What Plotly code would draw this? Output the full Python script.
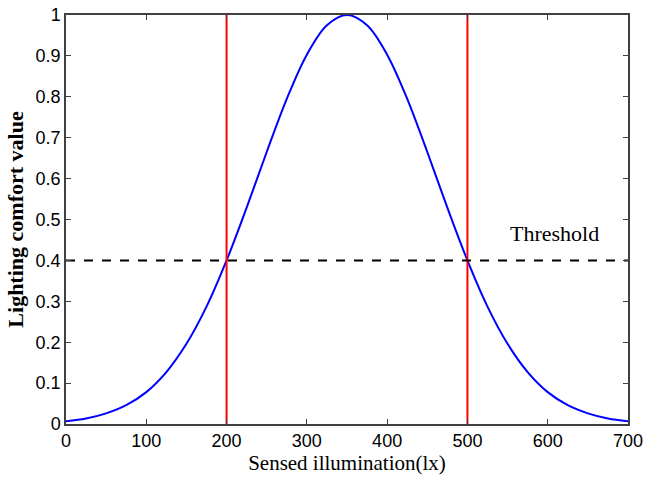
import plotly.graph_objects as go

# Data
illum = [0, 25, 50, 75, 100, 125, 150, 175, 200, 225, 250, 275, 300, 325, 350,
         375, 400, 425, 450, 475, 500, 525, 550, 575, 600, 625, 650, 675, 700]
comfort = [0.007, 0.0135, 0.026, 0.046, 0.078, 0.127, 0.196, 0.287, 0.400, 0.529,
           0.665, 0.795, 0.903, 0.975, 1.000,
           0.975, 0.903, 0.795, 0.665, 0.529, 0.400, 0.287, 0.196, 0.127, 0.078,
           0.046, 0.026, 0.0135, 0.007]
bounds_x = [200, 500]
threshold = 0.4
threshold_label = "Threshold"
label_pos = (608, 0.466)
x_ticks = [0, 100, 200, 300, 400, 500, 600, 700]
y_ticks = [0, 0.1, 0.2, 0.3, 0.4, 0.5, 0.6, 0.7, 0.8, 0.9, 1]

fig = go.Figure()
fig.add_trace(go.Scatter(x=illum, y=comfort, mode="lines",
                         line=dict(color="#0000ff", width=2, shape="spline"),
                         showlegend=False, cliponaxis=False))
for bx in bounds_x:
    fig.add_trace(go.Scatter(x=[bx, bx], y=[0, 1], mode="lines",
                             line=dict(color="#ff0000", width=2),
                             showlegend=False))
fig.add_trace(go.Scatter(x=[x_ticks[0], x_ticks[-1]], y=[threshold, threshold],
                         mode="lines",
                         line=dict(color="black", width=2, dash="dash"),
                         showlegend=False))
fig.add_annotation(x=label_pos[0], y=label_pos[1], text=threshold_label,
                   showarrow=False, xref="x", yref="y",
                   font=dict(family="Liberation Serif", size=22, color="black"))

axis_common = dict(showline=True, linecolor="#404040", linewidth=1.5, mirror="ticks",
                   ticks="inside", ticklen=5, tickcolor="#404040", tickwidth=1,
                   showgrid=False, zeroline=False, automargin=False,
                   tickfont=dict(family="Liberation Sans", size=18, color="black"))
fig.update_xaxes(range=[0, 700], tickvals=x_ticks, ticktext=[str(v) for v in x_ticks],
                 title=dict(text="Sensed illumination(lx)", standoff=4,
                            font=dict(family="Liberation Serif", size=21, color="black")),
                 **axis_common)
fig.update_yaxes(range=[0, 1], tickvals=y_ticks, ticktext=[f"{v:g}" for v in y_ticks],
                 title=dict(text="<b>Lighting comfort value</b>", standoff=6,
                            font=dict(family="Liberation Serif", size=22, color="black")),
                 **axis_common)
fig.update_layout(width=646, height=477, paper_bgcolor="white", plot_bgcolor="white",
                  margin=dict(l=66, r=18, t=15, b=53))
fig.write_html("out.html")
